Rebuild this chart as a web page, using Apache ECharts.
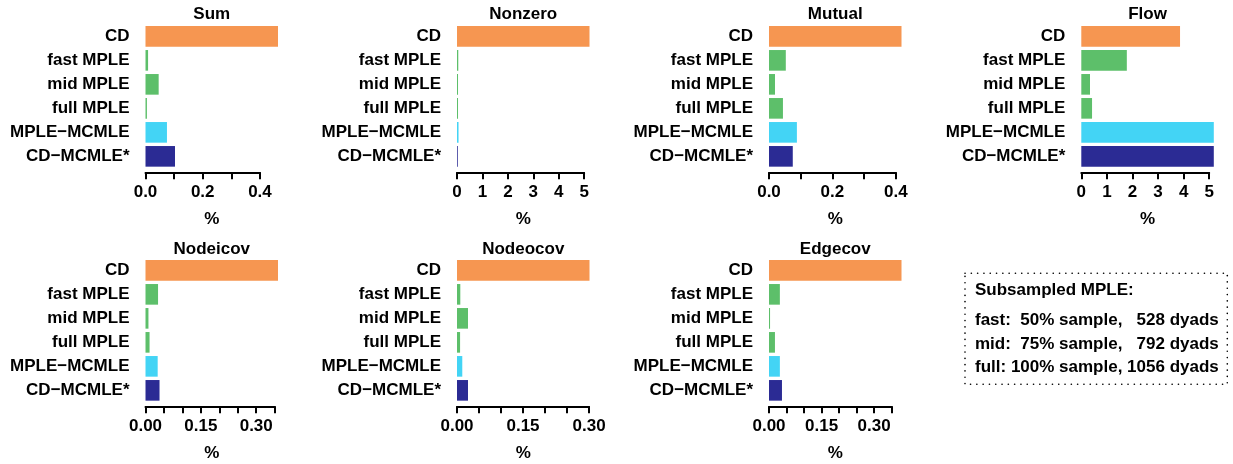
<!DOCTYPE html>
<html>
<head>
<meta charset="utf-8">
<script src="https://cdn.jsdelivr.net/npm/echarts@6/dist/echarts.min.js"></script>
<style>
  html, body { margin: 0; padding: 0; background: #ffffff; }
  #chart { width: 1233px; height: 464px; }
</style>
</head>
<body>
<div id="chart"></div>
<script>
// Estimation methods, top to bottom in every panel
const methods = ['CD', 'fast MPLE', 'mid MPLE', 'full MPLE', 'MPLE\u2212MCMLE', 'CD\u2212MCMLE*'];

// Panel titles (one per network statistic)
const panelTitles = ['Sum', 'Nonzero', 'Mutual', 'Flow', 'Nodeicov', 'Nodeocov', 'Edgecov'];

// Percent values per method, one array per statistic
const sumValues      = [0.463, 0.009, 0.046, 0.005, 0.075, 0.103];
const nonzeroValues  = [5.21, 0.05, 0.04, 0.04, 0.06, 0.03];
const mutualValues   = [0.418, 0.053, 0.019, 0.044, 0.088, 0.075];
const flowValues     = [3.86, 1.78, 0.34, 0.42, 5.18, 5.18];
const nodeicovValues = [0.359, 0.034, 0.008, 0.011, 0.033, 0.038];
const nodeocovValues = [0.301, 0.0075, 0.025, 0.007, 0.012, 0.025];
const edgecovValues  = [0.378, 0.031, 0.003, 0.017, 0.031, 0.037];

// Axis tick spacing and last tick of each panel
const tickSteps = [0.1, 1, 0.1, 1, 0.05, 0.05, 0.05];
const tickEnds  = [0.4, 5, 0.4, 5, 0.35, 0.30, 0.35];

// Labelled ticks per panel
const sumTickLabels      = ['0.0', '0.2', '0.4'];
const nonzeroTickLabels  = ['0', '1', '2', '3', '4', '5'];
const mutualTickLabels   = ['0.0', '0.2', '0.4'];
const flowTickLabels     = ['0', '1', '2', '3', '4', '5'];
const nodeicovTickLabels = ['0.00', '0.15', '0.30'];
const nodeocovTickLabels = ['0.00', '0.15', '0.30'];
const edgecovTickLabels  = ['0.00', '0.15', '0.30'];

// Subsampling note
const noteTitle = 'Subsampled MPLE:';
const noteLines = [
  'fast:  50% sample,   528 dyads',
  'mid:  75% sample,   792 dyads',
  'full: 100% sample, 1056 dyads'
];

const panelValues = [sumValues, nonzeroValues, mutualValues, flowValues,
                     nodeicovValues, nodeocovValues, edgecovValues];
const panelTickLabels = [sumTickLabels, nonzeroTickLabels, mutualTickLabels, flowTickLabels,
                         nodeicovTickLabels, nodeocovTickLabels, edgecovTickLabels];

// Styling
const FONT = '"Liberation Sans", Arial, Helvetica, sans-serif';
const FS = 17;
const methodColors = ['#F69651', '#5DBF6A', '#5DBF6A', '#5DBF6A', '#43D4F5', '#2B2B94'];

// Layout of the 4 x 2 panel arrangement
const colLeft = [145.5, 457, 769, 1081.3];
const plotW = 132.5;
const rowTop = [24.35, 258.35];
const bandsH = 144;
const axisDrop = 4;

function boldText(extra) {
  return Object.assign({ fill: '#000', fontFamily: FONT, fontSize: FS, fontWeight: 'bold' }, extra);
}

const grids = [], xAxes = [], yAxes = [], series = [], graphics = [];

panelValues.forEach(function (vals, i) {
  const col = i < 4 ? i : i - 4;
  const row = i < 4 ? 0 : 1;
  const left = colLeft[col];
  const top = rowTop[row];
  const dataMax = Math.max.apply(null, vals);
  const tickEnd = tickEnds[i];
  const labels = panelTickLabels[i];
  const axisY = top + bandsH + axisDrop;

  // bar area, spanning 0 .. largest value
  grids.push({ left: left, top: top, width: plotW, height: bandsH, containLabel: false });
  // axis strip, spanning 0 .. last tick on the same scale
  grids.push({ left: left, top: axisY - 1, width: plotW * tickEnd / dataMax, height: 1, containLabel: false });

  xAxes.push({
    type: 'value', gridIndex: 2 * i, min: 0, max: dataMax,
    axisLine: { show: false }, axisTick: { show: false },
    axisLabel: { show: false }, splitLine: { show: false },
    name: '%', nameLocation: 'middle', nameGap: 42,
    nameTextStyle: { fontFamily: FONT, fontSize: FS, fontWeight: 'bold', color: '#000' }
  });
  xAxes.push({
    type: 'value', gridIndex: 2 * i + 1, min: 0, max: tickEnd, interval: tickSteps[i],
    axisLine: { show: true, lineStyle: { color: '#000', width: 2 } },
    axisTick: { show: true, length: 7, lineStyle: { color: '#000', width: 2 } },
    splitLine: { show: false },
    axisLabel: {
      margin: 11, color: '#000', fontFamily: FONT, fontSize: FS, fontWeight: 'bold',
      showMinLabel: true, showMaxLabel: true,
      formatter: function (v) {
        for (let k = 0; k < labels.length; k++) {
          if (Math.abs(parseFloat(labels[k]) - v) < 1e-9) return labels[k];
        }
        return '';
      }
    }
  });

  yAxes.push({
    type: 'category', gridIndex: 2 * i, data: methods, inverse: true,
    axisLine: { show: false }, axisTick: { show: false }, splitLine: { show: false },
    axisLabel: { margin: 16, color: '#000', fontFamily: FONT, fontSize: FS, fontWeight: 'bold' }
  });
  yAxes.push({ type: 'category', gridIndex: 2 * i + 1, data: [''], show: false });

  series.push({
    type: 'bar', xAxisIndex: 2 * i, yAxisIndex: 2 * i,
    barCategoryGap: '14%', silent: true, animation: false,
    data: vals.map(function (v, k) { return { value: v, itemStyle: { color: methodColors[k] } }; })
  });

  graphics.push({
    type: 'text', x: left + plotW / 2, y: row === 0 ? 14.5 : 249,
    style: boldText({ text: panelTitles[i], align: 'center', verticalAlign: 'middle' })
  });
});

// Dotted note box in the free panel slot
graphics.push({
  type: 'rect', shape: { x: 965, y: 273.3, width: 262.3, height: 111 },
  style: { fill: 'none', stroke: '#000', lineWidth: 1.6, lineDash: [0.1, 6.2], lineCap: 'round' }
});
graphics.push({
  type: 'text', x: 975, y: 290,
  style: boldText({ text: noteTitle, align: 'left', verticalAlign: 'middle' })
});
const noteY = [320, 344, 367.5];
noteLines.forEach(function (t, k) {
  graphics.push({
    type: 'text', x: 975, y: noteY[k],
    style: boldText({ text: t, align: 'left', verticalAlign: 'middle' })
  });
});

const chart = echarts.init(document.getElementById('chart'), null, { renderer: 'canvas' });
chart.setOption({
  animation: false,
  backgroundColor: '#ffffff',
  grid: grids,
  xAxis: xAxes,
  yAxis: yAxes,
  series: series,
  graphic: graphics
});
</script>
</body>
</html>
